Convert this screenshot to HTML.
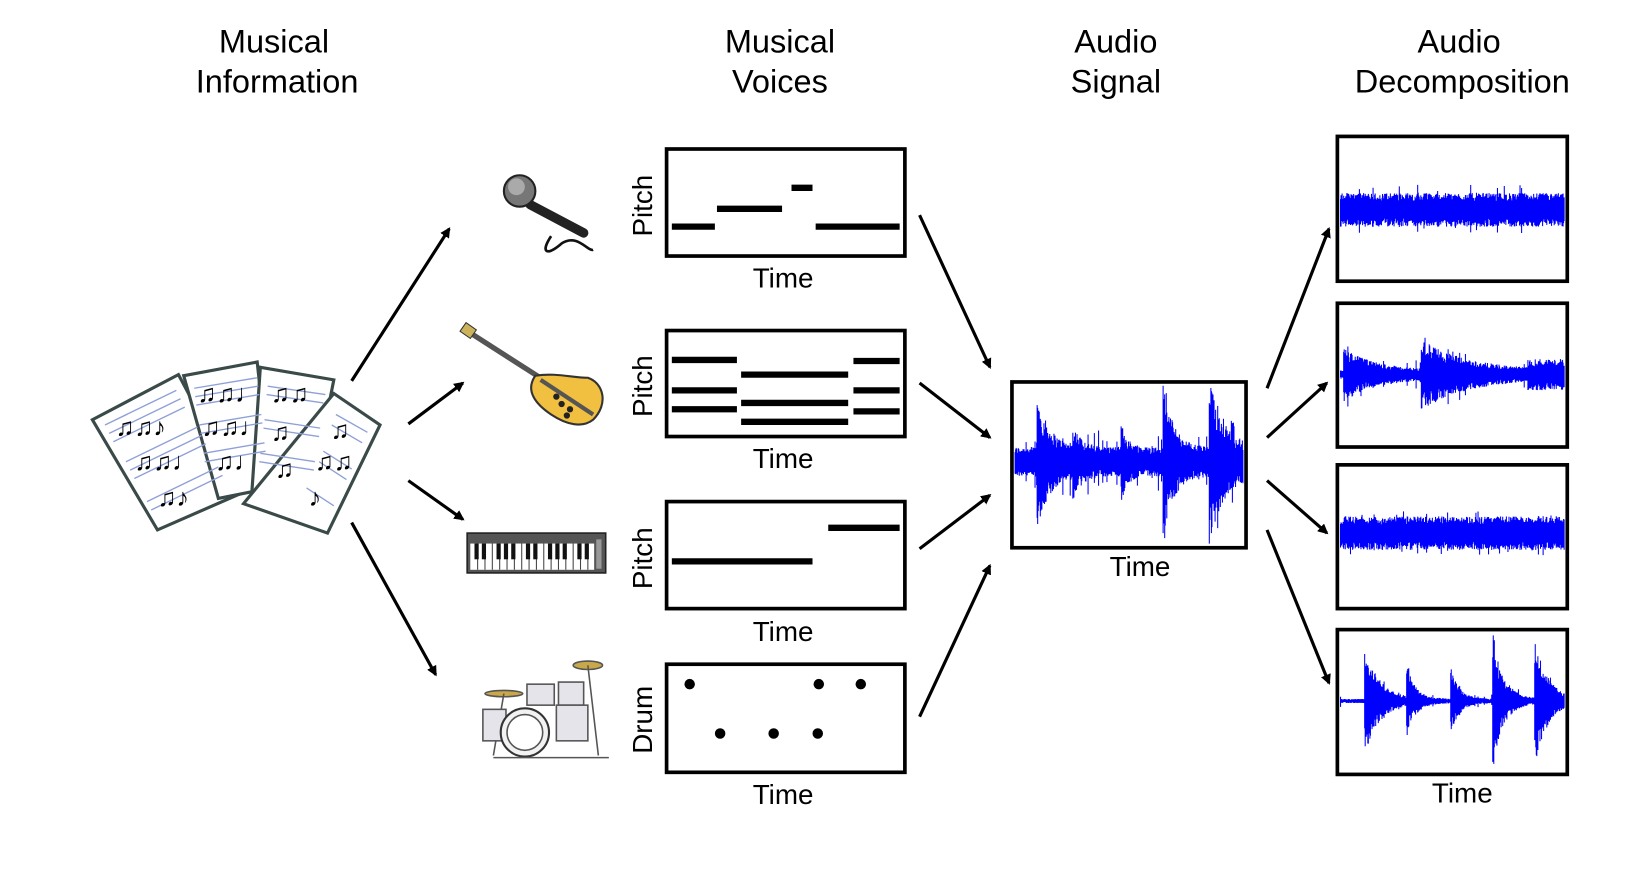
<!DOCTYPE html>
<html><head><meta charset="utf-8"><style>
html,body{margin:0;padding:0;background:#fff;}
svg{display:block}
text{font-family:"Liberation Sans",Arial,sans-serif;fill:#000}
</style></head><body>
<svg id="s" width="1646" height="872" viewBox="0 0 1568 831" preserveAspectRatio="none" xmlns="http://www.w3.org/2000/svg">
<defs>
<marker id="ah" markerWidth="10" markerHeight="10" refX="8" refY="5" orient="auto" markerUnits="userSpaceOnUse" viewBox="0 0 10 10">
<path d="M0,0 L10,5 L0,10 L3,5 z" fill="#000" transform="scale(1.4) translate(-3,-1.5)"/>
</marker>
</defs>
<!-- titles -->
<g font-size="31" text-anchor="middle">
<text x="261" y="50">Musical</text><text x="264" y="88">Information</text>
<text x="743" y="50">Musical</text><text x="743" y="88">Voices</text>
<text x="1063" y="50">Audio</text><text x="1063" y="88">Signal</text>
<text x="1390" y="50">Audio</text><text x="1393" y="88">Decomposition</text>
</g>
<!-- sheets -->
<g stroke="#3a4a48" stroke-width="3" fill="#fff">
<polygon points="88,400 170,357 230,470 150,505"/>
<polygon points="175,358 245,345 258,465 208,475"/>
<polygon points="248,350 318,362 295,478 240,468"/>
<polygon points="318,375 362,405 312,508 232,480"/>
</g>
<g fill="none" stroke="#8fa0d8" stroke-width="1.3">
<path d="M100,405 L168,372 M104,413 L172,380 M108,421 L176,388 M120,440 L188,407 M124,448 L192,415 M128,456 L196,423 M140,478 L208,445 M144,486 L212,453"/>
<path d="M185,370 L245,360 M186,378 L246,368 M187,386 L247,376 M190,405 L249,395 M191,413 L250,403 M194,432 L252,422 M195,440 L253,430"/>
<path d="M255,368 L310,376 M254,376 L308,384 M252,400 L305,408 M251,408 L304,416 M248,432 L300,440 M247,440 L299,448"/>
<path d="M320,395 L350,412 M316,405 L345,422 M308,430 L335,447 M304,440 L330,457 M292,465 L318,482"/>
</g>
<g font-size="24" fill="#2a3a38" font-family="DejaVu Sans,sans-serif">
<text x="110" y="415">♫♫♪</text><text x="128" y="448">♫♫♩</text><text x="150" y="482">♫♪</text>
<text x="188" y="383">♫♫♩</text><text x="192" y="415">♫♫♩</text><text x="205" y="448">♫♩</text>
<text x="258" y="383">♫♫</text><text x="258" y="420">♫</text><text x="262" y="455">♫</text>
<text x="315" y="418">♫</text><text x="300" y="448">♫♫</text><text x="294" y="482">♪</text>
</g>
<!-- microphone -->
<g>
<path d="M525,225 C515,240 520,245 535,232 C550,222 560,240 565,238" fill="none" stroke="#111" stroke-width="2.5"/>
<line x1="505" y1="195" x2="556" y2="222" stroke="#222" stroke-width="9" stroke-linecap="round"/>
<circle cx="495" cy="182" r="15" fill="#777" stroke="#222" stroke-width="2"/>
<circle cx="492" cy="178" r="8" fill="#aaa"/>
</g>
<!-- guitar -->
<g>
<line x1="446" y1="316" x2="535" y2="373" stroke="#555" stroke-width="5"/>
<rect x="440" y="310" width="12" height="10" fill="#ccb35a" stroke="#333" transform="rotate(35 446 315)"/>
<path d="M510,358 C530,355 545,360 560,360 C575,365 580,385 565,400 C555,408 540,405 525,395 C510,385 500,372 510,358 z" fill="#f2c040" stroke="#333" stroke-width="2"/>
<line x1="515" y1="362" x2="565" y2="395" stroke="#555" stroke-width="4"/>
<g fill="#222"><circle cx="535" cy="385" r="3"/><circle cx="543" cy="390" r="3"/><circle cx="530" cy="378" r="3"/><circle cx="540" cy="396" r="3"/></g>
</g>
<!-- keyboard -->
<g>
<rect x="445" y="508" width="132" height="38" fill="#555" stroke="#222" stroke-width="1.5"/>
<rect x="448" y="518" width="118" height="25" fill="#fff"/>
<g stroke="#444" stroke-width="1">
<path d="M455,518v25M462,518v25M469,518v25M476,518v25M483,518v25M490,518v25M497,518v25M504,518v25M511,518v25M518,518v25M525,518v25M532,518v25M539,518v25M546,518v25M553,518v25M560,518v25"/>
</g>
<g fill="#111">
<rect x="452" y="518" width="4" height="15"/><rect x="459" y="518" width="4" height="15"/><rect x="473" y="518" width="4" height="15"/><rect x="480" y="518" width="4" height="15"/><rect x="487" y="518" width="4" height="15"/><rect x="501" y="518" width="4" height="15"/><rect x="508" y="518" width="4" height="15"/><rect x="522" y="518" width="4" height="15"/><rect x="529" y="518" width="4" height="15"/><rect x="536" y="518" width="4" height="15"/><rect x="550" y="518" width="4" height="15"/><rect x="557" y="518" width="4" height="15"/>
</g>
<rect x="568" y="514" width="5" height="28" fill="#999"/>
</g>
<!-- drums -->
<g stroke="#555" stroke-width="1.5">
<ellipse cx="480" cy="661" rx="18" ry="3" fill="#c9a84a"/>
<ellipse cx="560" cy="634" rx="14" ry="4" fill="#c9a84a"/>
<line x1="480" y1="661" x2="470" y2="720"/><line x1="560" y1="634" x2="570" y2="720"/>
<rect x="502" y="652" width="26" height="20" fill="#e4e4ea"/>
<rect x="532" y="650" width="24" height="22" fill="#e4e4ea"/>
<rect x="460" y="676" width="22" height="30" fill="#e4e4ea"/>
<rect x="530" y="672" width="30" height="34" fill="#e4e4ea"/>
<circle cx="500" cy="698" r="23" fill="#f2f2f2" stroke="#333" stroke-width="2"/>
<circle cx="500" cy="698" r="17" fill="#fff"/>
<line x1="470" y1="722" x2="580" y2="722"/>
</g>
<!-- voice boxes -->
<g fill="none" stroke="#000" stroke-width="3.5">
<rect x="635" y="142" width="227" height="102"/>
<rect x="635" y="315" width="227" height="101"/>
<rect x="635" y="478" width="227" height="102"/>
<rect x="635" y="633" width="227" height="103"/>
<rect x="964" y="364" width="223" height="158"/>
<rect x="1274" y="130" width="219" height="138"/>
<rect x="1274" y="289" width="219" height="137"/>
<rect x="1274" y="443" width="219" height="137"/>
<rect x="1274" y="600" width="219" height="138"/>
</g>
<g font-size="26.5" text-anchor="middle">
<text transform="translate(621,196) rotate(-90)">Pitch</text>
<text transform="translate(621,368) rotate(-90)">Pitch</text>
<text transform="translate(621,532) rotate(-90)">Pitch</text>
<text transform="translate(621,686) rotate(-90)">Drum</text>
<text x="746" y="274">Time</text>
<text x="746" y="446">Time</text>
<text x="746" y="611">Time</text>
<text x="746" y="766">Time</text>
<text x="1086" y="549">Time</text>
<text x="1393" y="765">Time</text>
</g>
<g stroke="#000" stroke-width="6">
<path d="M640,216H681M683,199H745M754,179H774M777,216H857"/>
<path d="M640,343H702M640,372H702M640,390H702M706,357H808M706,384H808M706,402H808M813,344H857M813,372H857M813,392H857"/>
<path d="M640,535H774M789,503H857"/>
</g>
<g fill="#000">
<circle cx="657" cy="652" r="5"/><circle cx="780" cy="652" r="5"/><circle cx="820" cy="652" r="5"/>
<circle cx="686" cy="699" r="5"/><circle cx="737" cy="699" r="5"/><circle cx="779" cy="699" r="5"/>
</g>
<!-- arrows -->
<g stroke="#000" stroke-width="3" marker-end="url(#ah)">
<line x1="335" y1="363" x2="428" y2="218"/>
<line x1="389" y1="404" x2="441" y2="365"/>
<line x1="389" y1="458" x2="441" y2="495"/>
<line x1="335" y1="498" x2="415" y2="643"/>
<line x1="876" y1="205" x2="943" y2="350"/>
<line x1="876" y1="365" x2="943" y2="417"/>
<line x1="876" y1="523" x2="943" y2="472"/>
<line x1="876" y1="683" x2="943" y2="539"/>
<line x1="1207" y1="370" x2="1266" y2="218"/>
<line x1="1207" y1="417" x2="1264" y2="365"/>
<line x1="1207" y1="458" x2="1264" y2="508"/>
<line x1="1207" y1="505" x2="1266" y2="651"/>
</g>
<g id="waves" stroke="#0000ff" stroke-width="1" fill="none"></g>
</svg>
<script>
(function(){
var seed=12345;function r(){seed=(seed*1103515245+12345)%2147483648;return seed/2147483648;}
var g=document.getElementById('waves');
function wave(x0,x1,cy,env){var d='';for(var x=x0;x<=x1;x+=0.5){var a=env(x);var up=a*(0.5+0.5*r()),dn=a*(0.5+0.5*r());d+='M'+x.toFixed(1)+','+(cy-up).toFixed(1)+'V'+(cy+dn).toFixed(1);}
var p=document.createElementNS('http://www.w3.org/2000/svg','path');p.setAttribute('d',d);g.appendChild(p);}
function spike(x,s,w,A){return x>=s?A*Math.exp(-(x-s)/w):0;}
wave(967,1184,440,function(x){return 14+spike(x,988,12,50)+spike(x,1022,8,20)+spike(x,1068,6,25)+spike(x,1108,10,60)+spike(x,1152,14,65)+(r()<0.05?15:0);});
wave(1277,1490,200,function(x){return 16+(r()<0.05?8:0);});
wave(1277,1490,357,function(x){var a=4;a+=spike(x,1280,30,22);a+=spike(x,1354,45,28);if(x>1455)a=15;return a+(r()<0.04?8:0);});
wave(1277,1490,508,function(x){return 16+(r()<0.05?5:0);});
wave(1277,1490,668,function(x){return 2+spike(x,1300,14,50)+spike(x,1340,8,30)+spike(x,1382,8,30)+spike(x,1422,10,65)+spike(x,1462,12,60)+(r()<0.03?4:0);});
})();
</script>
</body></html>
